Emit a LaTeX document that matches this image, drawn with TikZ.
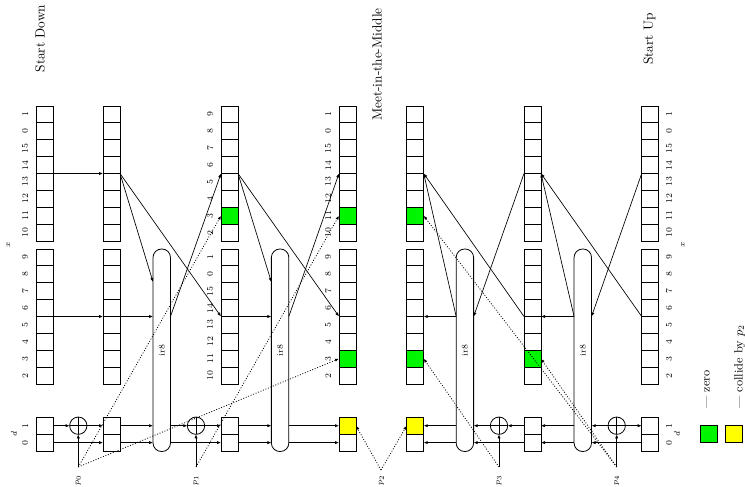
\documentclass[tikz,border=0pt]{standalone}
\usetikzlibrary{arrows.meta,calc}
\definecolor{zgreen}{RGB}{0,245,0}
\definecolor{cyellow}{RGB}{255,255,0}

% one register column: two groups of eight cells and a two-cell d register
\newcommand{\regcol}[2]{%
  \foreach \i in {0,...,7} {
    \node[cell] (#1-t\i) at (#2+8.5, 114.44+16.875*\i) {};
    \node[cell] (#1-b\i) at (#2+8.5, 257.44+16.875*\i) {};
  }
  \node[cell] (#1-d1) at (#2+8.5, 425.7) {};
  \node[cell] (#1-d0) at (#2+8.5, 442.6) {};
}
% nibble indices printed beside a column (shift in pt, negative = left)
\newcommand{\reglabels}[4]{%
  \foreach \t [count=\k from 0] in {#3} {
    \node[num] (#1-lt\k) at ([xshift=#2]#1-t\k.center) {\t};
  }
  \foreach \t [count=\k from 0] in {#4} {
    \node[num] (#1-lb\k) at ([xshift=#2]#1-b\k.center) {\t};
  }
}
\newcommand{\markcell}[2]{%
  \filldraw[fill=#2, line width=0.6pt] (#1.south west) rectangle (#1.north east);
}

\begin{document}
\begin{tikzpicture}[x=0.75pt,y=-0.75pt,
  cell/.style={draw, line width=0.6pt, minimum width=12.75pt, minimum height=12.66pt, inner sep=0pt, outer sep=0pt},
  num/.style={font=\fontsize{6.5}{7}\selectfont, rotate=90, inner sep=0pt},
  arr/.style={line width=0.5pt, -{Latex[length=3pt,width=2.4pt]}},
  darr/.style={arr, line width=0.6pt, dash pattern=on 0.7pt off 1.3pt},
  pill/.style={draw, line width=0.6pt, rounded corners=6.4pt, minimum width=13.1pt, minimum height=151.9pt, inner sep=0pt, outer sep=0pt},
  xor/.style={draw, circle, line width=0.6pt, minimum size=13pt, inner sep=0pt, outer sep=0pt},
  title/.style={rotate=90, inner sep=0pt}]
\useasboundingbox (0,0) rectangle (745,486);

% register columns
\regcol{A}{36}
\regcol{B}{103}
\regcol{C}{221}
\regcol{D}{339}
\regcol{E}{406.7}
\regcol{F}{524}
\regcol{G}{641.7}

% zero cells and the cells where p2 collides
\markcell{C-t6}{zgreen}
\markcell{D-t6}{zgreen}
\markcell{D-b6}{zgreen}
\markcell{E-t6}{zgreen}
\markcell{E-b6}{zgreen}
\markcell{F-b6}{zgreen}
\markcell{D-d1}{cyellow}
\markcell{E-d1}{cyellow}

% indices
\reglabels{A}{-14.5pt}{1,0,15,14,13,12,11,10}{9,8,7,6,5,4,3,2}
\reglabels{C}{-14.5pt}{9,8,7,6,5,4,3,2}{1,0,15,14,13,12,11,10}
\reglabels{D}{-14.5pt}{1,0,15,14,13,12,11,10}{9,8,7,6,5,4,3,2}
\reglabels{G}{14.1pt}{1,0,15,14,13,12,11,10}{9,8,7,6,5,4,3,2}
\node[num] (A-l1) at ([xshift=-14.5pt]A-d1.center) {1};
\node[num] (A-l0) at ([xshift=-14.5pt]A-d0.center) {0};
\node[num] (G-l1) at ([xshift=14.1pt]G-d1.center) {1};
\node[num] (G-l0) at ([xshift=14.1pt]G-d0.center) {0};
\node[num] (A-x) at (8.5,245) {$x$};
\node[num] (A-d) at (14,434) {$d$};
\node[num] (G-x) at (683,245) {$x$};
\node[num] (G-d) at (677,434) {$d$};

% ir8 rounds
\node[pill] (P1) at (161.75,350.25) {};
\node[pill] (P2) at (280.1,350.25) {};
\node[pill] (P3) at (464.9,350.25) {};
\node[pill] (P4) at (582.8,350.25) {};
\foreach \p in {P1,P2,P3,P4} { \node[num] (\p-lbl) at (\p) {ir8}; }

% xor gates
\foreach \n/\xx in {X1/78.3, X2/196, X3/499, X4/616.7} {
  \node[xor] (\n) at (\xx,425.7) {};
  \draw[line width=0.5pt] (\n.north) -- (\n.south) (\n.west) -- (\n.east);
}

% key inputs
\coordinate (p0) at (78.3,467);
\coordinate (p1) at (196,467);
\coordinate (p2) at (381,470);
\coordinate (p3) at (499,467);
\coordinate (p4) at (616.7,467);
\node[num] (p0-l) at (78.3,480) {$p_0$};
\node[num] (p1-l) at (196,480) {$p_1$};
\node[num] (p2-l) at (381.5,480) {$p_2$};
\node[num] (p3-l) at (499,480) {$p_3$};
\node[num] (p4-l) at (616.7,480) {$p_4$};
\foreach \k/\n in {p0/X1, p1/X2, p3/X3, p4/X4} { \draw[arr] (\k) -- (\n.south); }

% ---- downward half: d path
\draw[arr] (A-d1.east) -- (X1.west);
\draw[arr] (X1.east) -- (B-d1.west);
\draw[arr] (A-d0.east) -- (B-d0.west);
\draw[arr] (B-d1.east) -- (B-d1.east -| P1.west);
\draw[arr] (B-d0.east) -- (B-d0.east -| P1.west);
\draw[arr] (B-d1.east -| P1.east) -- (X2.west);
\draw[arr] (X2.east) -- (C-d1.west);
\draw[arr] (B-d0.east -| P1.east) -- (C-d0.west);
\draw[arr] (C-d1.east) -- (C-d1.east -| P2.west);
\draw[arr] (C-d0.east) -- (C-d0.east -| P2.west);
\draw[arr] (C-d1.east -| P2.east) -- (D-d1.west);
\draw[arr] (C-d0.east -| P2.east) -- (D-d0.west);

% ---- downward half: x path
\draw[arr] (A-t4.north east) -- (B-t4.north west);
\draw[arr] (A-b4.north east) -- (B-b4.north west);
\draw[arr] (B-t4.north east) -- ($(P1.north west)+(0,33)$);
\draw[arr] (B-t4.north east) -- (C-b4.north west);
\draw[arr] (B-b4.north east) -- (B-b4.north east -| P1.west);
\draw[arr] (B-b4.north east -| P1.east) -- (C-t4.north west);
\draw[arr] (C-t4.north east) -- ($(P2.north west)+(0,33)$);
\draw[arr] (C-t4.north east) -- (D-b4.north west);
\draw[arr] (C-b4.north east) -- (C-b4.north east -| P2.west);
\draw[arr] (C-b4.north east -| P2.east) -- (D-t4.north west);

% ---- upward half: d path
\draw[arr] (X4.east) -- (G-d1.west);
\draw[arr] (X4.west) -- (X4.west -| P4.east);
\draw[arr] (G-d0.west) -- (G-d0.west -| P4.east);
\draw[arr] (F-d1.east -| P4.west) -- (F-d1.east);
\draw[arr] (F-d0.east -| P4.west) -- (F-d0.east);
\draw[arr] (F-d1.west) -- (X3.east);
\draw[arr] (X3.west) -- (X3.west -| P3.east);
\draw[arr] (F-d0.west) -- (F-d0.west -| P3.east);
\draw[arr] (E-d1.east -| P3.west) -- (E-d1.east);
\draw[arr] (E-d0.east -| P3.west) -- (E-d0.east);

% ---- upward half: x path
\draw[arr] (G-t4.north west) -- (G-b4.north west -| P4.east);
\draw[arr] (G-b4.north west) -- (F-t4.north east);
\draw[arr] (F-b4.north east -| P4.west) -- (F-t4.north east);
\draw[arr] (F-b4.north east -| P4.west) -- (F-b4.north east);
\draw[arr] (F-t4.north west) -- (F-b4.north west -| P3.east);
\draw[arr] (F-b4.north west) -- (E-t4.north east);
\draw[arr] (E-b4.north east -| P3.west) -- (E-t4.north east);
\draw[arr] (E-b4.north east -| P3.west) -- (E-b4.north east);

% ---- key differences
\draw[darr] (p0) -- (C-t6.west);
\draw[darr] (p0) -- (D-b6.west);
\draw[darr] (p1) -- (D-t6.west);
\draw[darr] (p2) -- (D-d1.east);
\draw[darr] (p2) -- (E-d1.west);
\draw[darr] (p3) -- (E-b6.east);
\draw[darr] (p4) -- (E-t6.east);
\draw[darr] (p4) -- (F-b6.east);

% titles
\node[title] (tdown) at (40,38.5) {Start Down};
\node[title] (tmid) at (377,64.5) {Meet-in-the-Middle};
\node[title] (tup) at (649.5,39) {Start Up};

% legend
\node[cell, fill=zgreen] (kz) at (708.5,434.3) {};
\node[cell, fill=cyellow] (kc) at (734.2,434.3) {};
\node[rotate=90, anchor=base west, inner sep=0pt, font=\small] (kz-l) at (709.5,409) {--- zero};
\node[rotate=90, anchor=base west, inner sep=0pt, font=\small] (kc-l) at (742.5,409) {--- collide by $p_2$};
\end{tikzpicture}
\end{document}
